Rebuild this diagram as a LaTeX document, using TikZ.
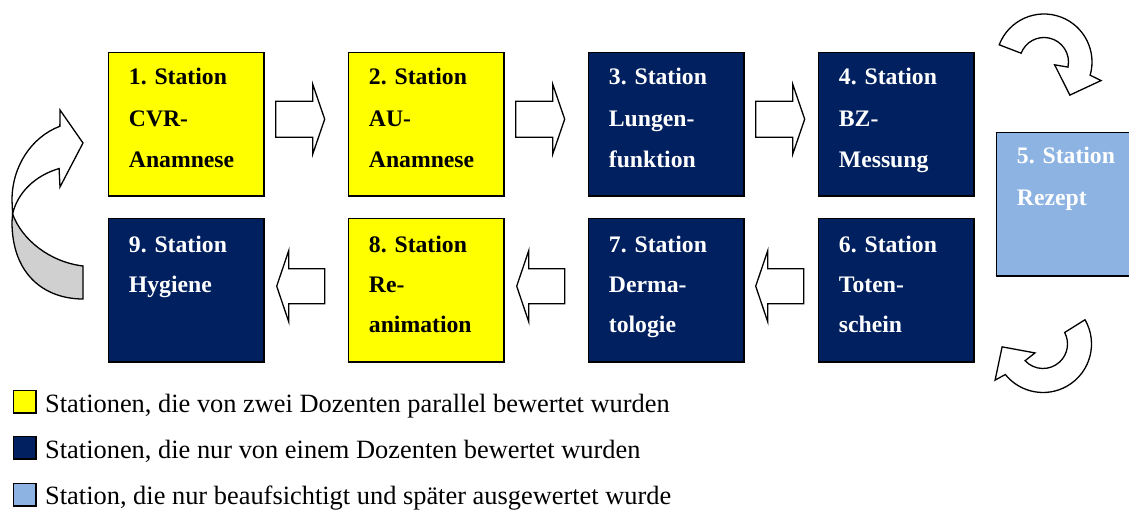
\documentclass[tikz,border=0pt]{standalone}
\usepackage{fontspec}
\setmainfont{Liberation Serif}[BoldFont={Liberation Serif Bold}]
\usetikzlibrary{calc}
\definecolor{stYellow}{HTML}{FFFF00}
\definecolor{stNavy}{HTML}{002060}
\definecolor{stLight}{HTML}{8DB3E2}
\definecolor{backGray}{HTML}{D0D0D0}
\frenchspacing
\begin{document}
\begin{tikzpicture}[x=1pt,y=-1pt,
  stbox/.style={draw=black, line width=1.4pt, minimum width=155.6pt, minimum height=143.6pt, inner sep=0pt, anchor=north west},
  two/.style={stbox, fill=stYellow},
  one/.style={stbox, fill=stNavy},
  supv/.style={stbox, fill=stLight, minimum width=160pt},
  sttext/.style={anchor=base west, inner sep=0pt, align=left, text width=140pt},
  rowA/.style={sttext, font=\fontsize{23.7}{41.5}\selectfont\bfseries},
  rowB/.style={sttext, font=\fontsize{23.7}{40}\selectfont\bfseries},
  rowC/.style={sttext, font=\fontsize{23.7}{42}\selectfont\bfseries},
  blk/.style={draw=black, line width=1.3pt, fill=white, line join=miter},
  legbox/.style={draw=black, line width=1.2pt, minimum size=22.8pt, inner sep=0pt, anchor=north west},
  legtext/.style={anchor=base west, inner sep=0pt, font=\fontsize{26.4}{30}\selectfont},
  rarrow/.pic={\draw[blk] (0,-18)--(37,-18)--(37,-35)--(49,0)--(37,35)--(37,18)--(0,18)--cycle;},
  larrow/.pic={\draw[blk] (0,0)--(12,-35.5)--(12,-17.5)--(48,-17.5)--(48,17.5)--(12,17.5)--(12,35.5)--cycle;}
]
\useasboundingbox (0,0) rectangle (1129,510);

% station boxes, upper row
\node[two] (s1) at (107.7,51.7) {};
\node[two] (s2) at (347.7,51.7) {};
\node[one] (s3) at (587.7,51.7) {};
\node[one] (s4) at (817.7,51.7) {};
% station boxes, lower row
\node[one] (s9) at (107.7,217.7) {};
\node[two] (s8) at (347.7,217.7) {};
\node[one] (s7) at (587.7,217.7) {};
\node[one] (s6) at (817.7,217.7) {};
% supervised station on the right
\node[supv] (s5) at (995.7,131.7) {};

% box captions
\node[rowA] (t1) at ($(s1.north west)+(21,33)$) {1. Station\\CVR-\\Anamnese};
\node[rowA] (t2) at ($(s2.north west)+(21,33)$) {2. Station\\AU-\\Anamnese};
\node[rowA, text=white] (t3) at ($(s3.north west)+(21,33)$) {3. Station\\Lungen-\\funktion};
\node[rowA, text=white] (t4) at ($(s4.north west)+(21,33)$) {4. Station\\BZ-\\Messung};
\node[rowB, text=white] (t9) at ($(s9.north west)+(21,34.5)$) {9. Station\\Hygiene};
\node[rowB] (t8) at ($(s8.north west)+(21,34.5)$) {8. Station\\Re-\\animation};
\node[rowB, text=white] (t7) at ($(s7.north west)+(21,34.5)$) {7. Station\\Derma-\\tologie};
\node[rowB, text=white] (t6) at ($(s6.north west)+(21,34.5)$) {6. Station\\Toten-\\schein};
\node[rowC, text=white] (t5) at ($(s5.north west)+(21,31.5)$) {5. Station\\Rezept};

% block arrows between neighbouring stations
\pic at ($(s1.east)+(11,-5)$) {rarrow};
\pic at ($(s2.east)+(11,-5)$) {rarrow};
\pic at ($(s3.east)+(11,-5)$) {rarrow};
\pic at ($(s9.east)+(12,-4)$) {larrow};
\pic at ($(s8.east)+(12,-4)$) {larrow};
\pic at ($(s7.east)+(11,-4)$) {larrow};

% curved arrow from station 4 to station 5
\coordinate (cTR) at (1044,62);
\draw[blk] ($(cTR)+(201:48)$) arc[start angle=201, end angle=376, radius=48]
  -- ($(cTR)+(18:60)$) -- ($(cTR)+(52:42)$) -- ($(cTR)+(15:11)$)
  -- ($(cTR)+(12:24.5)$) arc[start angle=372, end angle=201, radius=24.5] -- cycle;

% curved arrow from station 5 to station 6
\coordinate (cBR) at (1043,344);
\draw[blk] ($(cBR)+(-30:48.5)$) arc[start angle=-30, end angle=141, radius=48.5]
  -- ($(cBR)+(143:60)$) -- ($(cBR)+(176:41)$) -- ($(cBR)+(132:12)$)
  -- ($(cBR)+(137:24.5)$) arc[start angle=137, end angle=-28, radius=24.5] -- cycle;

% curved arrow from station 9 back to station 1 (back side shaded)
\coordinate (cL) at (83,200);
\coordinate (cLin) at (83,225);
\coordinate (tailTop) at (83,266);
\coordinate (tailBot) at (83,299);
\coordinate (fold) at (12.6,214);
\draw[blk, fill=backGray] (fold) -- (12,222) .. controls (12,275) and (45,299) .. (tailBot)
  -- (tailTop) .. controls (50,262) and (22,240) .. (fold) -- cycle;
\draw[blk] ($(cL)+(251:71 and 78)$)
  arc[start angle=251, end angle=180, x radius=71, y radius=78]
  -- (fold) arc[start angle=191, end angle=251.5, x radius=70, y radius=60]
  -- (60,187) -- (83,143) -- (60,110) -- cycle;

% legend
\node[legbox, fill=stYellow] (k1) at (12.6,389.6) {};
\node[legbox, fill=stNavy]   (k2) at (12.6,435.6) {};
\node[legbox, fill=stLight]  (k3) at (12.6,482.6) {};
\node[legtext] (l1) at (45,412) {Stationen, die von zwei Dozenten parallel bewertet wurden};
\node[legtext] (l2) at (45,458) {Stationen, die nur von einem Dozenten bewertet wurden};
\node[legtext] (l3) at (45,504) {Station, die nur beaufsichtigt und später ausgewertet wurde};
\end{tikzpicture}
\end{document}
